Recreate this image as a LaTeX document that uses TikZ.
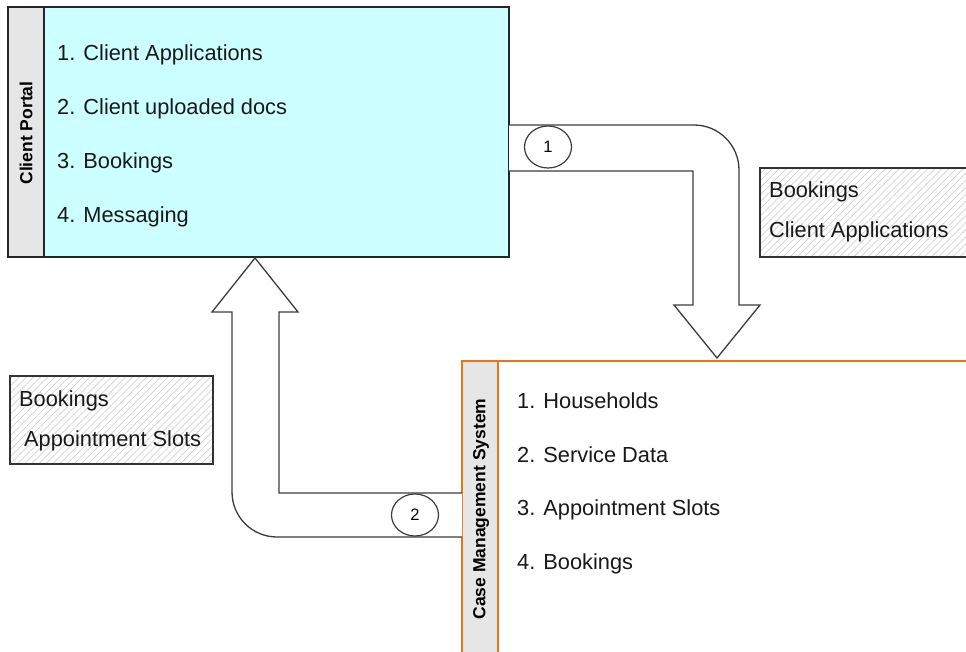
\documentclass[tikz,border=0pt]{standalone}
\usepackage{fontspec}
\setmainfont{Liberation Sans}
\usetikzlibrary{patterns.meta}
\usetikzlibrary{shapes.geometric}
\definecolor{cpfill}{RGB}{204,255,255}
\definecolor{stripgray}{RGB}{230,230,230}
\definecolor{cmsorange}{RGB}{230,120,20}
\definecolor{arrowline}{RGB}{60,60,60}
\definecolor{hatch}{RGB}{210,210,210}
\tikzset{
  item/.style={anchor=base west, inner sep=0pt, font=\fontsize{21.8}{26}\selectfont, text=black!90},
  vlabel/.style={rotate=90, inner sep=0pt, font=\fontsize{17.5}{20}\selectfont\bfseries},
  bigarrow/.style={draw=arrowline, line width=1.3pt, fill=white, line join=miter},
  numcircle/.style={draw=arrowline, line width=1.2pt, ellipse, minimum width=47pt, minimum height=42pt, inner sep=0pt, font=\fontsize{16.5}{19}\selectfont},
  hatchbox/.style={draw=black!80, line width=1.2pt, pattern={Lines[angle=45,distance=5pt,line width=0.7pt]}, pattern color=hatch}
}
\begin{document}
\begin{tikzpicture}[x=1pt,y=1pt]
\useasboundingbox (0,0) rectangle (966,-651);
\clip (0,0) rectangle (966,-651);

% Client Portal box
\fill[cpfill] (8,-7) rectangle (509,-257);
\fill[stripgray] (8,-7) rectangle (44,-257);
\draw[black!85, line width=1.2pt] (8,-7) rectangle (509,-257);
\draw[black!85, line width=1.2pt] (44,-7) -- (44,-257);
\node[vlabel] (cplabel) at (26,-133) {Client Portal};
\node[item] (cp1) at (57,-60) {1. Client Applications};
\node[item] (cp2) at (57,-114) {2. Client uploaded docs};
\node[item] (cp3) at (57,-168) {3. Bookings};
\node[item] (cp4) at (57,-222) {4. Messaging};

% CMS box
\fill[white] (462,-361) rectangle (990,-700);
\fill[stripgray] (462,-361) rectangle (498,-700);
\draw[cmsorange, line width=1.3pt] (462,-361) rectangle (990,-700);
\draw[cmsorange, line width=1.3pt] (498,-361) -- (498,-700);
\node[vlabel] (cmslabel) at (481,-509) {Case Management System};
\node[item] (cms1) at (517,-408) {1. Households};
\node[item] (cms2) at (517,-462) {2. Service Data};
\node[item] (cms3) at (517,-515) {3. Appointment Slots};
\node[item] (cms4) at (517,-569) {4. Bookings};

% Arrow 1 (Client Portal -> CMS)
\draw[bigarrow] (509,-125) -- (694,-125)
  arc[start angle=90, end angle=0, radius=45pt]
  -- (739,-305) -- (760,-305) -- (717,-358) -- (674,-305) -- (693,-305)
  -- (693,-171) -- (509,-171);
\node[numcircle] (c1) at (548,-147) {1};

% Arrow 2 (CMS -> Client Portal)
\draw[bigarrow] (462,-493) -- (279,-493) -- (279,-312) -- (298,-312)
  -- (255,-258) -- (212,-312) -- (232,-312) -- (232,-492)
  arc[start angle=180, end angle=270, radius=45pt]
  -- (462,-537);
\node[numcircle] (c2) at (415,-515) {2};

% Hatched note boxes
\path[hatchbox] (760,-168) rectangle (980,-257);
\node[item] (n1a) at (769,-197) {Bookings};
\node[item] (n1b) at (769,-237) {Client Applications};

\path[hatchbox] (10,-376) rectangle (213,-464);
\node[item] (n2a) at (19,-406) {Bookings};
\node[item] (n2b) at (24,-446) {Appointment Slots};
\end{tikzpicture}
\end{document}
